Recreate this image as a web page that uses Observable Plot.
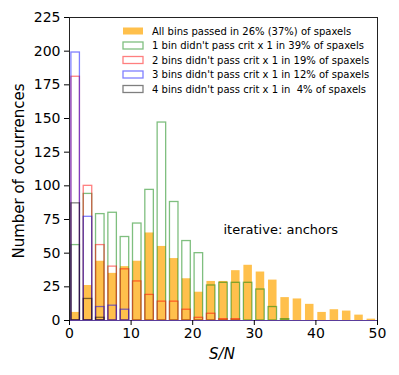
<!DOCTYPE html>
<html>
<head>
<meta charset="utf-8">
<script src="https://cdn.jsdelivr.net/npm/d3@7"></script>
<script src="https://cdn.jsdelivr.net/npm/@observablehq/plot@0.6"></script>
<style>
  html, body { margin: 0; padding: 0; background: white; }
  #chart { width: 399px; height: 375px; }
</style>
</head>
<body>
<div id="chart"></div>
<script>
// Bin edges of S/N histogram
const binEdges = [0,2,4,6,8,10,12,14,16,18,20,22,24,26,28,30,32,34,36,38,40,42,44,46,48,50];
// Counts per bin
const allPassed = [6,26,44,35,40,44,65,55,46,31,21,29,29,37,41,36,30,17,16,12,6,8,7,4,1];
const oneBin    = [56,94,79,80,62,72,97,147,88,59,50,26,28,28,28,23,10,1,0,0,0,0,0,0,0];
const twoBins   = [181,100,56,40,38,29,19,14,14,8,2,5,1,1,0,0,0,0,0,0,0,0,0,0,0];
const threeBins = [199,77,10,11,8,0,0,0,0,0,0,0,0,0,0,0,0,0,0,0,0,0,0,0,0];
const fourBins  = [87,16,2,0,0,0,0,0,0,0,0,0,0,0,0,0,0,0,0,0,0,0,0,0,0];

const xTicks = [0,10,20,30,40,50];
const yTicks = [0,25,50,75,100,125,150,175,200,225];

const legendLabels = [
  "All bins passed in 26% (37%) of spaxels",
  "1 bin didn't pass crit x 1 in 39% of spaxels",
  "2 bins didn't pass crit x 1 in 19% of spaxels",
  "3 bins didn't pass crit x 1 in 12% of spaxels",
  "4 bins didn't pass crit x 1 in \u00a04% of spaxels"
];
const seriesColors = ["#FFA500", "#008000", "#FF0000", "#0000FF", "#000000"];
const annotation = "iterative: anchors";

const toRows = (vals) => vals.map((v, i) => ({x1: binEdges[i], x2: binEdges[i+1], v}));

const inset = 1.9;
const outline = (vals, color) => Plot.rectY(toRows(vals).filter(d => d.v > 0), {
  x1: "x1", x2: "x2", y: "v",
  fill: "none", stroke: color, strokeOpacity: 0.5, strokeWidth: 1.3,
  insetLeft: inset, insetRight: inset
});

const chart = Plot.plot({
  width: 399, height: 375,
  marginLeft: 69, marginRight: 22, marginTop: 17, marginBottom: 55,
  style: {fontFamily: "DejaVu Sans", fontSize: "14px", background: "white", color: "black"},
  x: {domain: [0, 50], label: null},
  y: {domain: [0, 225], label: null},
  marks: [
    Plot.rectY(toRows(allPassed), {
      x1: "x1", x2: "x2", y: "v",
      fill: seriesColors[0], fillOpacity: 0.7,
      insetLeft: inset, insetRight: inset
    }),
    outline(oneBin, seriesColors[1]),
    outline(twoBins, seriesColors[2]),
    outline(threeBins, seriesColors[3]),
    outline(fourBins, seriesColors[4]),
    Plot.frame({stroke: "#222", strokeWidth: 1}),
    Plot.ruleY([0], {stroke: "#5a3c9a", strokeWidth: 1.2}),
    Plot.axisX({ticks: xTicks, tickSize: 5, tickPadding: 3, fontSize: 14, label: null}),
    Plot.axisY({ticks: yTicks, tickSize: 5, tickPadding: 4, fontSize: 14, label: null}),
    Plot.text([annotation], {frameAnchor: "top-left", dx: 154, dy: 207, text: d => d, fontSize: 13, textAnchor: "start"})
  ]
});

const svg = d3.select(chart);
// Axis titles
svg.append("text")
  .attr("transform", "translate(24,171) rotate(-90)")
  .attr("text-anchor", "middle")
  .attr("font-size", 15)
  .attr("font-family", "DejaVu Sans")
  .text("Number of occurrences");
svg.append("text")
  .attr("x", 222).attr("y", 359)
  .attr("text-anchor", "middle")
  .attr("font-size", 15)
  .attr("font-style", "italic")
  .attr("font-family", "DejaVu Sans")
  .text("S/N");

// Legend
const lg = svg.append("g").attr("font-family", "DejaVu Sans").attr("font-size", 10).attr("text-anchor", "start");
legendLabels.forEach((label, i) => {
  const cy = 31 + i * 14.5;
  const r = lg.append("rect").attr("x", 123).attr("y", cy - 3.5).attr("width", 20).attr("height", 7);
  if (i === 0) {
    r.attr("fill", seriesColors[0]).attr("fill-opacity", 0.7);
  } else {
    r.attr("fill", "none").attr("stroke", seriesColors[i]).attr("stroke-opacity", 0.5).attr("stroke-width", 1.3);
  }
  lg.append("text").attr("x", 152).attr("y", cy).attr("dy", "0.35em").attr("text-anchor", "start").text(label);
});

document.getElementById("chart").appendChild(chart);
</script>
</body>
</html>
